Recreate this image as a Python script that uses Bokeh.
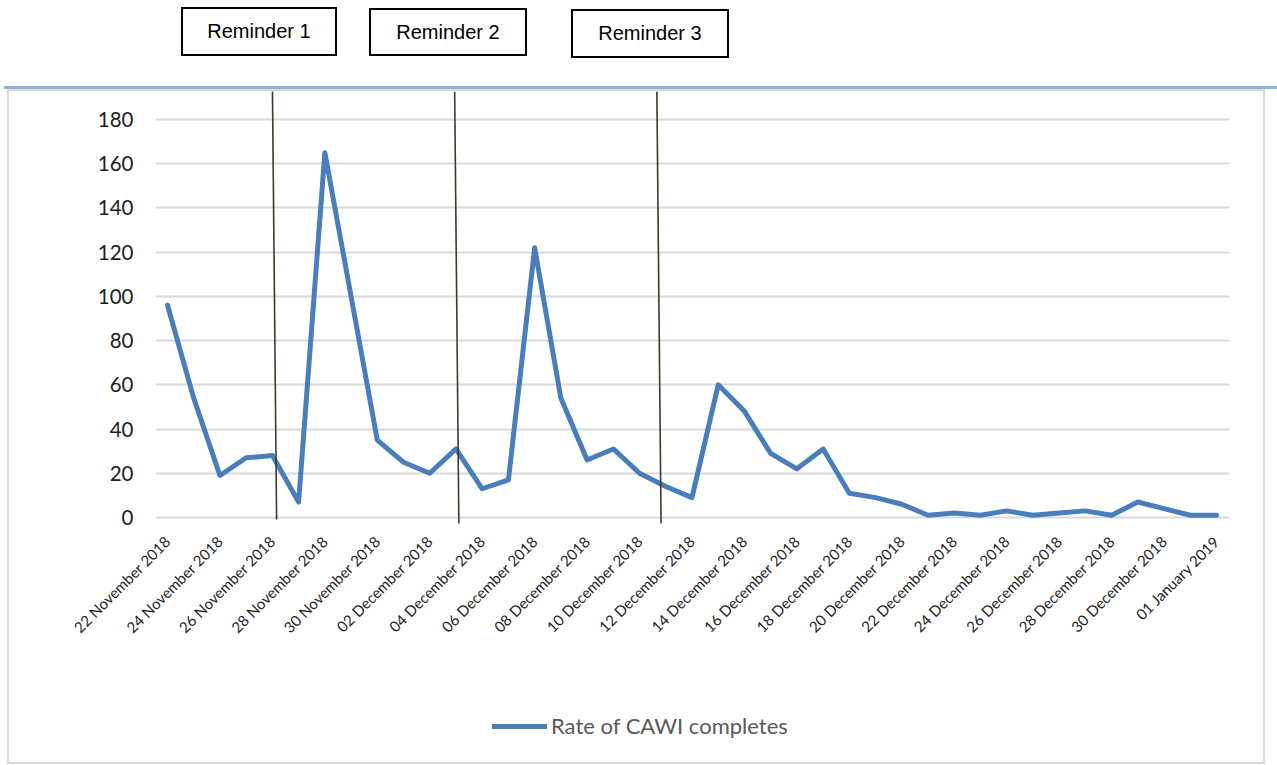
from math import pi

from bokeh.embed import file_html
from bokeh.layouts import column
from bokeh.models import Div, FixedTicker, Legend, LegendItem, Range1d
from bokeh.plotting import figure
from bokeh.resources import INLINE

# Daily CAWI completes, 22 November 2018 .. 01 January 2019 (day index 0..40)
completes = [96, 54, 19, 27, 28, 7, 165, 100, 35, 25,
             20, 31, 13, 17, 122, 54, 26, 31, 20, 14,
             9, 60, 48, 29, 22, 31, 11, 9, 6, 1,
             2, 1, 3, 1, 2, 3, 1, 7, 4, 1,
             1]
days = list(range(len(completes)))

tick_days = list(range(0, 41, 2))
tick_labels = ["22 November 2018", "24 November 2018", "26 November 2018",
               "28 November 2018", "30 November 2018", "02 December 2018",
               "04 December 2018", "06 December 2018", "08 December 2018",
               "10 December 2018", "12 December 2018", "14 December 2018",
               "16 December 2018", "18 December 2018", "20 December 2018",
               "22 December 2018", "24 December 2018", "26 December 2018",
               "28 December 2018", "30 December 2018", "01 January 2019"]
y_ticks = [0, 20, 40, 60, 80, 100, 120, 140, 160, 180]

# Reminder send-outs, hand-drawn marker lines (day index at top / bottom)
reminder_names = ["Reminder 1", "Reminder 2", "Reminder 3"]
reminder_day_top = [4.0, 10.95, 18.66]
reminder_day_bottom = [4.16, 11.11, 18.82]
reminder_y_top = [196.0, 192.7, 192.7]
reminder_y_bottom = [-0.9, -2.7, -2.7]

W = 1277
HEAD_H = 89                  # call-out strip height
BOX_X0, BOX_X1 = 7, 1265     # grey chart border, outer edges
BOX_Y1 = 764
BW = 2                       # border width
FL, FR, FB = 155, 1229, 527  # plot frame edges on the page
AXIS_H = 120                 # room for the slanted date labels
PX_PER_DAY = (1216 - 167) / 40
PX_PER_UNIT = (517 - 119) / 180

inner_x0 = BOX_X0 + BW
inner_x1 = BOX_X1 - BW
inner_y0 = HEAD_H + BW
inner_y1 = BOX_Y1 - BW

# ---------------------------------------------------------------- call-outs
box_geom = [(181, 7, 156, 49), (369, 8, 158, 48), (571, 9, 158, 49)]
parts = []
for name, (bx, by, bw, bh) in zip(reminder_names, box_geom):
    parts.append(
        f'<div style="position:absolute;left:{bx}px;top:{by}px;width:{bw}px;'
        f'height:{bh}px;box-sizing:border-box;border:2px solid #000;'
        f'background:#fff;display:flex;align-items:center;'
        f'justify-content:center;font-size:20px;color:#000;">{name}</div>')
parts.append('<div style="position:absolute;left:4px;top:86px;width:1273px;'
             'height:2.5px;background:#8fb1de;"></div>')
head = Div(text=('<div style="position:relative;width:1277px;height:89px;'
                 'background:#fff;font-family:\'Liberation Sans\',Arial,'
                 'sans-serif;">' + "".join(parts) + '</div>'),
           width=W, height=HEAD_H, margin=0)

# ---------------------------------------------------------------- chart
x_start = -(167 - FL) / PX_PER_DAY
x_end = x_start + (FR - FL) / PX_PER_DAY
y_start = -(FB - 517) / PX_PER_UNIT
y_end = (517 - inner_y0) / PX_PER_UNIT

p = figure(frame_width=FR - FL, frame_height=FB - inner_y0,
           min_border_left=FL - inner_x0, min_border_right=inner_x1 - FR,
           min_border_top=0, min_border_bottom=AXIS_H,
           x_range=Range1d(x_start, x_end), y_range=Range1d(y_start, y_end),
           output_backend="svg", toolbar_location=None)
p.margin = (0, 0, 0, 0)
p.outline_line_color = None
p.background_fill_color = "white"
p.border_fill_color = "white"

for ax in (p.xaxis[0], p.yaxis[0]):
    ax.axis_line_color = None
    ax.major_tick_line_color = None
    ax.minor_tick_line_color = None
    ax.major_tick_out = 0
    ax.major_label_text_font = "Lato"
    ax.major_label_text_color = "#1e1e1e"

p.xaxis.ticker = FixedTicker(ticks=tick_days)
p.xaxis.major_label_overrides = {d: lab for d, lab in zip(tick_days, tick_labels)}
p.xaxis.major_label_orientation = pi / 4
p.xaxis.major_label_text_font_size = "15px"
p.xaxis.major_label_standoff = 11

p.yaxis.ticker = FixedTicker(ticks=y_ticks)
p.yaxis.major_label_text_font_size = "20.5px"
p.yaxis.major_label_standoff = 22

p.xgrid.visible = False
p.ygrid.ticker = FixedTicker(ticks=y_ticks)
p.ygrid.grid_line_color = "#d9d9d9"
p.ygrid.grid_line_width = 2

LINE_STYLE = dict(line_color="#4a7ebb", line_width=5, line_join="round",
                  line_cap="round")
p.line(days, completes, **LINE_STYLE)

p.segment(x0=reminder_day_top, y0=reminder_y_top,
          x1=reminder_day_bottom, y1=reminder_y_bottom,
          line_color="#3d3b28", line_width=1.6)

# ---------------------------------------------------------------- legend strip
chart_bottom = FB + AXIS_H
leg_h = inner_y1 - chart_bottom
lg = figure(frame_width=FR - FL, frame_height=leg_h,
            min_border_left=FL - inner_x0, min_border_right=inner_x1 - FR,
            min_border_top=0, min_border_bottom=0,
            x_axis_type=None, y_axis_type=None,
            x_range=Range1d(0, 1), y_range=Range1d(0, 1),
            output_backend="svg", toolbar_location=None)
lg.margin = (0, 0, 0, 0)
lg.outline_line_color = None
lg.grid.visible = False
lg.background_fill_color = "white"
lg.border_fill_color = "white"
# legend key: a single-vertex line shares the series style but draws nothing
key = lg.line(x=[0], y=[0], **LINE_STYLE)

legend_center_y = 726
legend = Legend(items=[LegendItem(label="Rate of CAWI completes", renderers=[key])],
                location=(492 - FL, inner_y1 - legend_center_y - 13),
                orientation="horizontal",
                glyph_width=55, glyph_height=26, label_height=26,
                label_standoff=4, padding=0, margin=0, spacing=0,
                border_line_color=None, background_fill_alpha=0,
                label_text_font="Lato", label_text_font_size="22px",
                label_text_color="#595959")
lg.add_layout(legend)

# white sheet inside a light grey frame
sheet = column(p, lg, spacing=0, styles={"background-color": "white"})
panel = column(sheet, spacing=0, margin=(0, 0, 0, BOX_X0),
               styles={"background-color": "#d9d9d9", "padding": f"{BW}px"})

layout = column(head, panel, spacing=0)
open("out.html", "w").write(file_html(layout, INLINE))
